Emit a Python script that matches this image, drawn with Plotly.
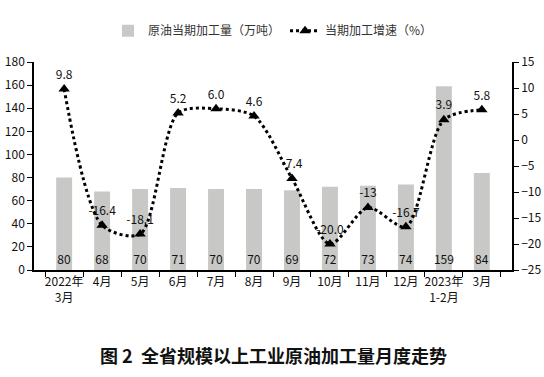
import plotly.graph_objects as go

categories = ["2022年<br>3月", "4月", "5月", "6月", "7月", "8月", "9月", "10月", "11月", "12月", "2023年<br>1-2月", "3月"]
output_wt = [80, 68, 70, 71, 70, 70, 69, 72, 73, 74, 159, 84]
growth_pct = [9.8, -16.4, -18.1, 5.2, 6.0, 4.6, -7.4, -20.0, -13, -16.7, 3.9, 5.8]
growth_labels = ["9.8", "-16.4", "-18.1", "5.2", "6.0", "4.6", "-7.4", "-20.0", "-13", "-16.7", "3.9", "5.8"]

font_main = "Noto Sans CJK SC"

fig = go.Figure()
fig.add_trace(go.Bar(
    x=categories, y=output_wt, name="原油当期加工量（万吨）",
    marker=dict(color="#c8c8c6", line=dict(width=0)),
    width=0.42,
    text=[str(v) for v in output_wt], textposition="inside", insidetextanchor="start",
    constraintext="none", cliponaxis=False,
    textfont=dict(size=12, color="#111"), textangle=0,
    yaxis="y",
))
fig.add_trace(go.Scatter(
    x=categories, y=growth_pct, name="当期加工增速（%）",
    mode="lines+markers+text",
    line=dict(color="black", width=3, dash="dot", shape="spline", smoothing=0.8),
    marker=dict(symbol="triangle-up", size=10, color="black"),
    text=growth_labels, textposition="top center",
    textfont=dict(size=12, color="#111"),
    yaxis="y2", cliponaxis=False,
))

fig.update_layout(
    width=544, height=377,
    margin=dict(l=34, r=32, t=62, b=107, autoexpand=False),
    paper_bgcolor="white", plot_bgcolor="white",
    font=dict(family=font_main, size=12, color="#111"),
    showlegend=True,
    legend=dict(orientation="h", x=0.5, xanchor="center", y=1.15, yanchor="middle",
                font=dict(size=12, color="#333"), bgcolor="rgba(0,0,0,0)"),
    xaxis=dict(type="category", showline=True, linecolor="black", linewidth=1.5,
               ticks="outside", tickson="boundaries", ticklen=5, tickcolor="black",
               tickangle=0, automargin=False,
               tickfont=dict(size=12), showgrid=False, zeroline=False),
    yaxis=dict(range=[0, 180], dtick=20, showline=True, linecolor="black", linewidth=1.5,
               ticks="outside", ticklen=5, tickcolor="black", showgrid=False, zeroline=False,
               automargin=False, tickfont=dict(size=12)),
    yaxis2=dict(range=[-25, 15], dtick=5, overlaying="y", side="right", showline=True,
                linecolor="black", linewidth=1.5, ticks="outside", ticklen=5, tickcolor="black",
                automargin=False, showgrid=False, zeroline=False, tickfont=dict(size=12)),
    annotations=[dict(text="<b>图 2  全省规模以上工业原油加工量月度走势</b>", x=0.5, xref="paper",
                      y=-(355 - 270) / (270 - 62), yref="paper", yanchor="middle",
                      showarrow=False, font=dict(size=18, color="#111"))],
)

fig.write_html("out.html", config={"displayModeBar": False},
               post_script="document.body.style.margin='0';")
